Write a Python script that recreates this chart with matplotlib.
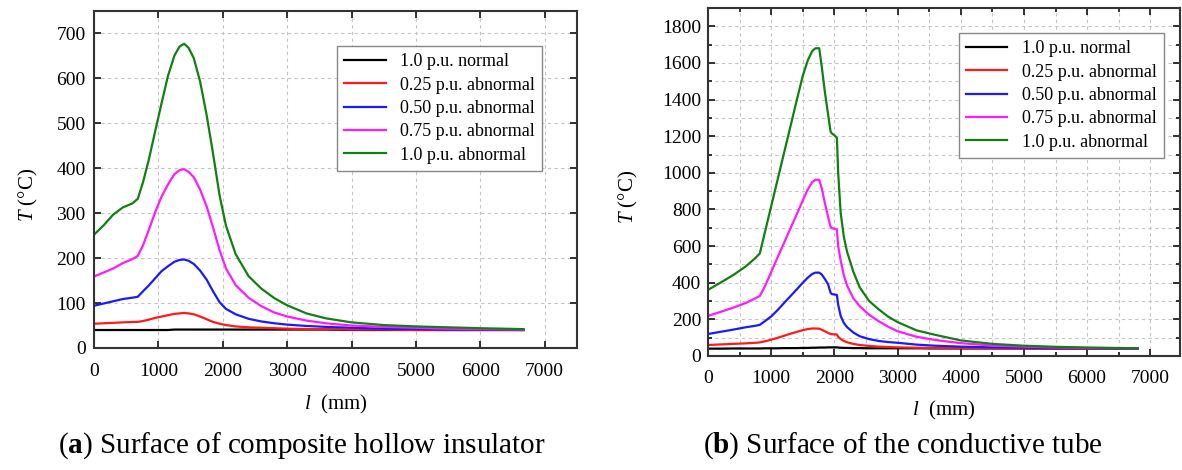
import numpy as np
import matplotlib
matplotlib.use('Agg')
import matplotlib.pyplot as plt
from matplotlib.ticker import MultipleLocator

plt.rcParams['font.family'] = ['Liberation Serif', 'DejaVu Serif']
plt.rcParams['mathtext.fontset'] = 'custom'
plt.rcParams['mathtext.rm'] = 'Liberation Serif'
plt.rcParams['mathtext.it'] = 'Liberation Serif:italic'
plt.rcParams['mathtext.bf'] = 'Liberation Serif:bold'

labels = ['1.0 p.u. normal', '0.25 p.u. abnormal', '0.50 p.u. abnormal',
          '0.75 p.u. abnormal', '1.0 p.u. abnormal']
colors = ['black', '#ff1a1a', '#1a1aff', '#ff1aff', '#108010']

# (a) composite hollow insulator surface
l_a = [0, 150, 300, 450, 600, 680, 760, 850, 950, 1050, 1150, 1250, 1330, 1400,
       1470, 1550, 1650, 1750, 1850, 1950, 2050, 2200, 2400, 2600, 2800, 3000,
       3300, 3600, 4000, 4500, 5000, 5500, 6000, 6670]
a_normal = [40, 40, 40, 40, 40, 40, 40, 40, 40, 40, 40, 41, 41, 41,
            41, 41, 41, 41, 41, 41, 41, 41, 41, 41, 41, 41,
            41, 41, 40, 40, 40, 40, 40, 40]
a_025 = [54, 55, 56, 57, 58, 58, 60, 63, 67, 70, 73, 76, 77, 78,
         77, 75, 70, 64, 58, 54, 51, 48, 46, 45, 44, 43,
         42, 42, 41, 41, 40, 40, 40, 40]
a_050 = [94, 99, 104, 109, 112, 114, 126, 139, 155, 171, 182, 192, 196, 197,
         194, 187, 172, 152, 126, 102, 87, 75, 65, 59, 55, 52,
         49, 47, 45, 43, 42, 41, 41, 40]
a_075 = [159, 168, 177, 189, 198, 205, 228, 262, 302, 337, 364, 387, 396, 398,
         392, 380, 352, 315, 268, 218, 177, 140, 112, 93, 79, 70,
         61, 55, 50, 47, 45, 43, 42, 41]
a_100 = [252, 273, 297, 313, 322, 332, 368, 418, 482, 545, 606, 651, 671, 677,
         668, 645, 592, 518, 432, 340, 272, 209, 160, 132, 111, 95,
         77, 66, 57, 51, 48, 46, 44, 42]

# (b) conductive tube surface
l_b = [0, 200, 400, 600, 750, 820, 900, 1000, 1100, 1200, 1300, 1400, 1500,
       1580, 1650, 1700, 1760, 1800, 1850, 1900, 1940, 1960, 2000, 2040, 2060,
       2100, 2150, 2200, 2300, 2400, 2550, 2700, 2850, 3000, 3300, 3600, 4000,
       4500, 5000, 5500, 6000, 6800]
b_normal = [40, 40, 41, 41, 41, 41, 42, 42, 42, 43, 43, 43, 44,
            44, 45, 45, 46, 46, 46, 47, 47, 47, 47, 47, 46,
            45, 44, 44, 43, 43, 42, 42, 42, 42, 42, 41, 41,
            41, 41, 40, 40, 40]
b_025 = [60, 63, 66, 69, 72, 74, 80, 89, 99, 110, 121, 131, 141,
         147, 150, 150, 149, 143, 135, 126, 120, 119, 118, 117, 105,
         92, 82, 75, 66, 60, 55, 51, 49, 47, 45, 44, 43,
         42, 41, 41, 40, 40]
b_050 = [120, 132, 144, 157, 165, 170, 190, 216, 250, 288, 325, 362, 400,
         428, 448, 455, 455, 445, 420, 392, 345, 338, 336, 333, 280,
         218, 180, 158, 128, 108, 92, 82, 76, 72, 62, 56, 51,
         47, 45, 43, 42, 41]
b_075 = [219, 241, 264, 290, 315, 328, 380, 458, 538, 615, 693, 770, 850,
         910, 950, 962, 962, 915, 835, 760, 705, 698, 695, 690, 600,
         520, 440, 385, 315, 272, 225, 190, 160, 135, 105, 87, 70,
         57, 51, 47, 44, 42]
b_100 = [361, 401, 442, 490, 535, 560, 675, 818, 961, 1104, 1247, 1390, 1530,
         1615, 1665, 1680, 1680, 1580, 1440, 1320, 1225, 1215, 1205, 1190, 1000,
         780, 650, 570, 460, 375, 300, 255, 215, 185, 140, 115, 85,
         66, 56, 50, 46, 42]

fig = plt.figure(figsize=(11.82, 4.70), dpi=100)
ax1 = fig.add_axes([0.0795, 0.2596, 0.4086, 0.717])
ax2 = fig.add_axes([0.599, 0.2426, 0.3993, 0.7404])

grid_kw = dict(color='#c4c4c4', linestyle=(0, (3, 3)), linewidth=0.8)


def style(ax, xpad, ypad):
    for sp in ax.spines.values():
        sp.set_linewidth(1.5)
        sp.set_color('#333333')
    ax.tick_params(which='both', direction='in', top=True, right=True,
                   width=1.3, color='#222222', labelsize=14)
    ax.tick_params(which='major', length=5)
    ax.tick_params(which='minor', length=3)
    ax.tick_params(axis='x', pad=xpad)
    ax.tick_params(axis='y', pad=ypad)
    ax.set_axisbelow(True)
    ax.set_xlabel('$l$  (mm)', fontsize=15, labelpad=9)
    ax.set_ylabel('$T$ (°C)', fontsize=15)


series_a = [a_normal, a_025, a_050, a_075, a_100]
for ys, c, lab in zip(series_a, colors, labels):
    ax1.plot(l_a, ys, color=c, lw=1.6, label=lab)
ax1.set_xlim(0, 7500)
ax1.set_ylim(0, 750)
ax1.xaxis.set_major_locator(MultipleLocator(1000))
ax1.yaxis.set_major_locator(MultipleLocator(100))
ax1.grid(True, which='major', **grid_kw)
style(ax1, 11, 6)
ax1.yaxis.set_label_coords(-0.112, 0.454)
leg1 = ax1.legend(loc='upper right', bbox_to_anchor=(0.928, 0.896),
                  fontsize=13, frameon=True, fancybox=False, framealpha=1,
                  edgecolor='#888888', handlelength=2.3, labelspacing=0.35,
                  borderaxespad=0, handletextpad=0.8, borderpad=0.4)
leg1.get_frame().set_linewidth(1.0)

series_b = [b_normal, b_025, b_050, b_075, b_100]
for ys, c, lab in zip(series_b, colors, labels):
    ax2.plot(l_b, ys, color=c, lw=1.6, label=lab)
ax2.set_xlim(0, 7470)
ax2.set_ylim(0, 1900)
ax2.xaxis.set_major_locator(MultipleLocator(1000))
ax2.xaxis.set_minor_locator(MultipleLocator(500))
ax2.yaxis.set_major_locator(MultipleLocator(200))
ax2.yaxis.set_minor_locator(MultipleLocator(100))
ax2.grid(True, which='both', **grid_kw)
style(ax2, 10, 5)
ax2.yaxis.set_label_coords(-0.145, 0.457)
leg2 = ax2.legend(loc='upper right', bbox_to_anchor=(0.966, 0.928),
                  fontsize=13, frameon=True, fancybox=False, framealpha=1,
                  edgecolor='#888888', handlelength=2.3, labelspacing=0.35,
                  borderaxespad=0, handletextpad=0.8, borderpad=0.4)
leg2.get_frame().set_linewidth(1.0)

fig.text(0.255, 0.052, r'($\mathbf{a}$) Surface of composite hollow insulator',
         ha='center', va='center', fontsize=21)
fig.text(0.764, 0.052, r'($\mathbf{b}$) Surface of the conductive tube',
         ha='center', va='center', fontsize=21)

fig.savefig('out.png', dpi=100)
